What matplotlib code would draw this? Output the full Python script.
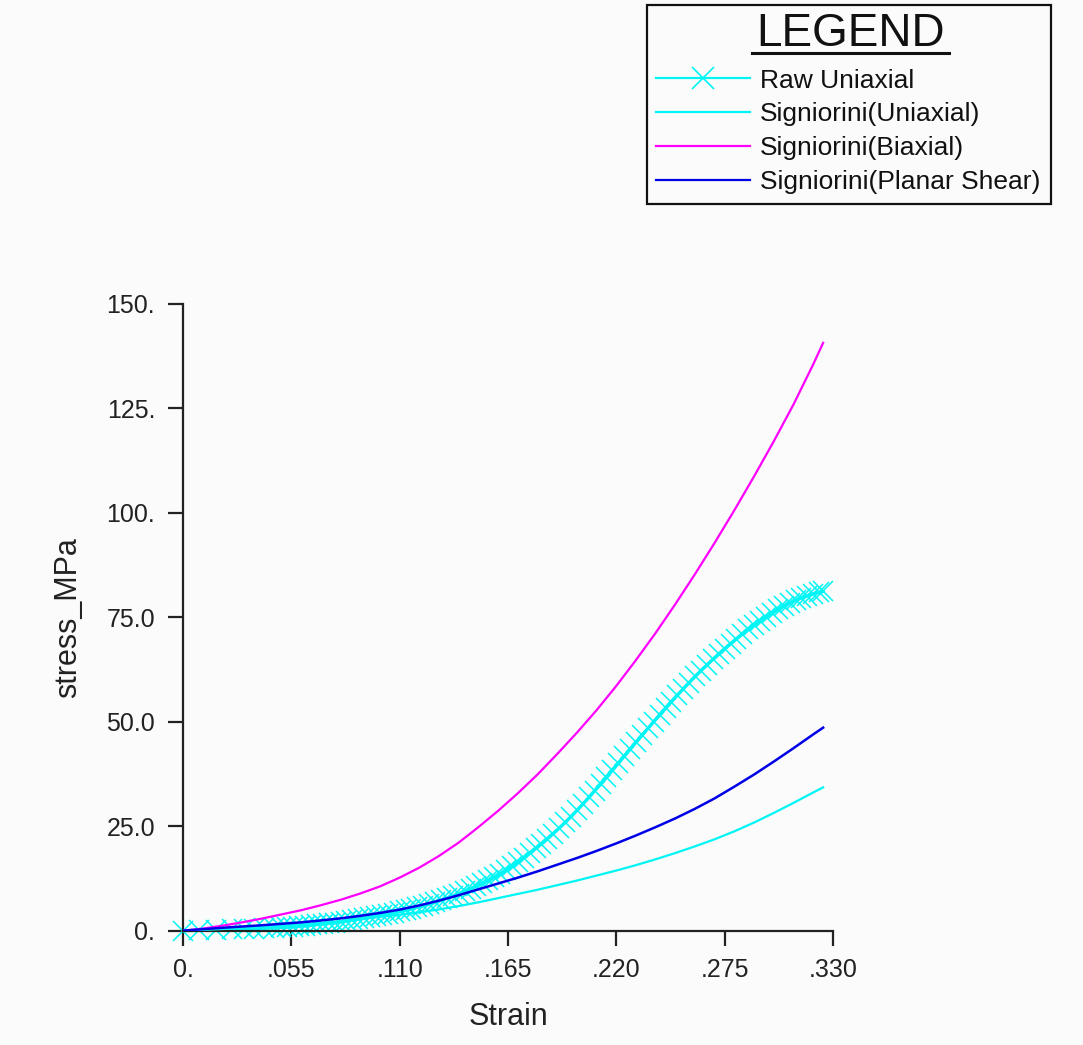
import matplotlib
matplotlib.use('Agg')
import matplotlib.pyplot as plt
from matplotlib.lines import Line2D
from matplotlib.patches import Rectangle

plt.rcParams['font.family'] = ['Liberation Sans', 'DejaVu Sans']

# ---------------- data ----------------
raw_strain = [0.000, 0.008, 0.017, 0.025, 0.031, 0.036, 0.041, 0.046, 0.050, 0.053,
              0.056, 0.059, 0.062, 0.065, 0.068, 0.071, 0.074, 0.077, 0.080, 0.083,
              0.086, 0.089, 0.092, 0.095, 0.098, 0.101, 0.104, 0.107, 0.110, 0.113,
              0.116, 0.119, 0.122, 0.125, 0.128, 0.131, 0.134, 0.137, 0.140, 0.143,
              0.146, 0.149, 0.152, 0.155, 0.158, 0.161, 0.164, 0.167, 0.170, 0.173,
              0.176, 0.179, 0.182, 0.185, 0.188, 0.191, 0.194, 0.197, 0.200, 0.203,
              0.206, 0.209, 0.212, 0.215, 0.218, 0.221, 0.224, 0.227, 0.230, 0.233,
              0.236, 0.239, 0.242, 0.245, 0.248, 0.251, 0.254, 0.257, 0.260, 0.263,
              0.266, 0.269, 0.272, 0.275, 0.278, 0.281, 0.284, 0.287, 0.290, 0.293,
              0.296, 0.299, 0.302, 0.305, 0.308, 0.311, 0.314, 0.317, 0.320, 0.323,
              0.325]
raw_stress = [0.0, 0.1, 0.2, 0.3, 0.4, 0.5, 0.6, 0.7, 0.8, 0.85,
              0.95, 1.05, 1.2, 1.35, 1.5, 1.65, 1.8, 1.95, 2.15, 2.35,
              2.6, 2.8, 3.05, 3.3, 3.5, 3.75, 4.0, 4.3, 4.6, 4.9,
              5.25, 5.6, 6.0, 6.4, 6.8, 7.3, 7.8, 8.3, 8.9, 9.5,
              10.1, 10.7, 11.35, 12.05, 12.8, 13.6, 14.5, 15.4, 16.4, 17.45,
              18.55, 19.7, 20.8, 22.0, 23.25, 24.55, 25.9, 27.3, 28.8, 30.3,
              31.9, 33.5, 35.1, 36.75, 38.4, 40.05, 41.75, 43.45, 45.1, 46.75,
              48.4, 50.05, 51.7, 53.3, 54.85, 56.4, 57.9, 59.4, 60.85, 62.25,
              63.6, 64.95, 66.25, 67.5, 68.7, 69.9, 71.05, 72.15, 73.2, 74.2,
              75.15, 76.05, 76.9, 77.7, 78.45, 79.1, 79.7, 80.2, 80.65, 81.0,
              81.2]

fit_strain = [0.00, 0.01, 0.02, 0.03, 0.04, 0.05, 0.06, 0.07, 0.08, 0.09,
              0.10, 0.11, 0.12, 0.13, 0.14, 0.15, 0.16, 0.17, 0.18, 0.19,
              0.20, 0.21, 0.22, 0.23, 0.24, 0.25, 0.26, 0.27, 0.28, 0.29,
              0.30, 0.31, 0.32, 0.325]
fit_uniaxial = [0.0, 0.2, 0.4, 0.65, 0.9, 1.2, 1.5, 1.85, 2.25, 2.75,
                3.3, 3.85, 4.4, 5.1, 5.9, 6.8, 7.8, 8.8, 9.8, 10.9,
                12.0, 13.2, 14.4, 15.7, 17.1, 18.6, 20.2, 21.9, 23.8, 25.9,
                28.2, 30.6, 33.1, 34.3]
fit_biaxial = [0.0, 0.5, 1.2, 2.0, 2.9, 3.9, 4.9, 6.1, 7.4, 8.9,
               10.6, 12.7, 15.1, 17.9, 21.1, 24.8, 28.7, 32.9, 37.4, 42.3,
               47.4, 52.8, 58.6, 64.8, 71.3, 78.2, 85.4, 92.9, 100.7, 108.8,
               117.2, 126.0, 135.6, 140.7]
fit_planar = [0.0, 0.35, 0.7, 1.0, 1.3, 1.65, 2.0, 2.45, 2.95, 3.55,
              4.25, 5.05, 6.05, 7.2, 8.5, 9.9, 11.3, 12.7, 14.2, 15.8,
              17.4, 19.1, 20.9, 22.8, 24.8, 26.9, 29.2, 31.7, 34.5, 37.4,
              40.5, 43.7, 47.0, 48.6]

x_ticks = [0.0, 0.055, 0.110, 0.165, 0.220, 0.275, 0.330]
x_tick_labels = ['0.', '.055', '.110', '.165', '.220', '.275', '.330']
y_ticks = [0, 25, 50, 75, 100, 125, 150]
y_tick_labels = ['0.', '25.0', '50.0', '75.0', '100.', '125.', '150.']

legend_title = 'LEGEND'
legend_labels = ['Raw Uniaxial', 'Signiorini(Uniaxial)', 'Signiorini(Biaxial)',
                 'Signiorini(Planar Shear)']
colors = ['#00f5f5', '#00f5f5', '#ff00ff', '#0000e6']

# ---------------- figure ----------------
W, H = 1083, 1045
bg = '#fbfbfb'
fig = plt.figure(figsize=(W / 100, H / 100), dpi=100, facecolor=bg)


def fx(px):
    return px / W


def fy(py):
    return 1 - py / H


ax = fig.add_axes([fx(183), fy(930.7), 650 / W, 626.7 / H])
ax.set_facecolor(bg)
ax.set_xlim(0, 0.33)
ax.set_ylim(0, 150)
for s in ['top', 'right']:
    ax.spines[s].set_visible(False)
for s in ['left', 'bottom']:
    ax.spines[s].set_color('#222222')
    ax.spines[s].set_linewidth(1.6)
ax.tick_params(direction='out', length=11, width=1.6, color='#222222',
               labelsize=18, labelcolor='#222222', pad=9)
ax.set_xticks(x_ticks)
ax.set_xticklabels(x_tick_labels)
ax.set_yticks(y_ticks)
ax.set_yticklabels(y_tick_labels)

ax.plot(raw_strain, raw_stress, color=colors[0], lw=2.4, marker='x',
        markersize=14, markeredgewidth=1.1, clip_on=False, zorder=2)
ax.plot(fit_strain, fit_uniaxial, color=colors[1], lw=1.6, zorder=3)
ax.plot(fit_strain, fit_biaxial, color=colors[2], lw=1.6, zorder=3)
ax.plot(fit_strain, fit_planar, color=colors[3], lw=1.8, zorder=4)

ax.set_xlabel('Strain', fontsize=22, color='#222222')
ax.xaxis.set_label_coords(0.5, -0.113)
ax.set_ylabel('stress_MPa', fontsize=22, color='#222222')
ax.yaxis.set_label_coords(-0.153, 0.5)

# ---------------- legend ----------------
fig.add_artist(Rectangle((fx(647), fy(204)), 404 / W, 199 / H, transform=fig.transFigure,
                         facecolor='none', edgecolor='#111111', lw=1.6))
fig.text(fx(851), fy(34), legend_title, fontsize=33, ha='center', va='center',
         color='#111111')
fig.add_artist(Line2D([fx(752), fx(949)], [fy(53), fy(53)], transform=fig.transFigure,
                      color='#111111', lw=2.2))
rows_y = [78, 112, 146, 180]
for i, (lab, c) in enumerate(zip(legend_labels, colors)):
    yy = fy(rows_y[i])
    fig.add_artist(Line2D([fx(656), fx(750)], [yy, yy], transform=fig.transFigure,
                          color=c, lw=1.6))
    if i == 0:
        fig.add_artist(Line2D([fx(703)], [yy], transform=fig.transFigure, color=c,
                              marker='x', markersize=16, markeredgewidth=1.2, lw=0))
    fig.text(fx(760), yy, lab, fontsize=19, ha='left', va='center_baseline',
             color='#111111')

fig.savefig('out.png', dpi=100, facecolor=bg)
